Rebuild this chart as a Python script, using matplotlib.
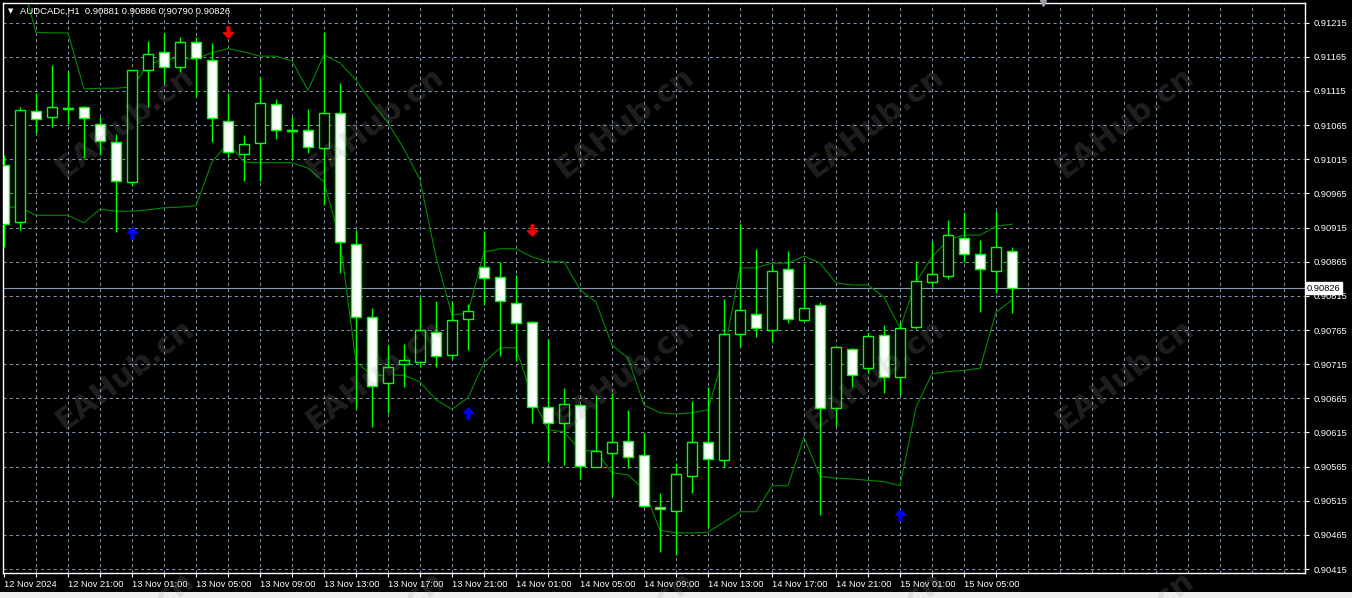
import matplotlib.pyplot as plt
from matplotlib.path import Path
import numpy as np

# AUDCADc H1 bars, 12 Nov 17:00 .. 15 Nov 08:00
opens = [0.91007, 0.90923, 0.91086, 0.91077, 0.91090, 0.91092, 0.91067, 0.91040, 0.90982, 0.91145,
         0.91172, 0.91150, 0.91187, 0.91160, 0.91071, 0.91023, 0.91039, 0.91096, 0.91058, 0.91058,
         0.91032, 0.91083, 0.90891, 0.90784, 0.90687, 0.90715, 0.90718, 0.90762, 0.90728, 0.90781,
         0.90857, 0.90843, 0.90805, 0.90777, 0.90652, 0.90629, 0.90655, 0.90565, 0.90585, 0.90603,
         0.90582, 0.90506, 0.90500, 0.90551, 0.90601, 0.90575, 0.90759, 0.90789, 0.90765, 0.90854,
         0.90780, 0.90802, 0.90651, 0.90737, 0.90709, 0.90758, 0.90696, 0.90769, 0.90835, 0.90844,
         0.90900, 0.90876, 0.90851, 0.90881]
highs = [0.91021, 0.91092, 0.91112, 0.91153, 0.91143, 0.91093, 0.91077, 0.91052, 0.91146, 0.91188,
         0.91200, 0.91194, 0.91194, 0.91185, 0.91112, 0.91051, 0.91135, 0.91103, 0.91077, 0.91089,
         0.91201, 0.91127, 0.90911, 0.90797, 0.90743, 0.90745, 0.90813, 0.90808, 0.90808, 0.90803,
         0.90910, 0.90865, 0.90846, 0.90778, 0.90752, 0.90680, 0.90656, 0.90670, 0.90673, 0.90648,
         0.90614, 0.90526, 0.90570, 0.90661, 0.90682, 0.90810, 0.90920, 0.90884, 0.90860, 0.90881,
         0.90863, 0.90806, 0.90740, 0.90738, 0.90761, 0.90772, 0.90777, 0.90866, 0.90895, 0.90926,
         0.90938, 0.90897, 0.90939, 0.90886]
lows = [0.90887, 0.90911, 0.91053, 0.91062, 0.91067, 0.91017, 0.91021, 0.90909, 0.90976, 0.91092,
        0.91127, 0.91143, 0.91106, 0.91040, 0.91018, 0.90983, 0.90983, 0.91045, 0.91017, 0.91024,
        0.90948, 0.90849, 0.90649, 0.90623, 0.90644, 0.90682, 0.90711, 0.90711, 0.90723, 0.90736,
        0.90802, 0.90727, 0.90720, 0.90629, 0.90572, 0.90567, 0.90547, 0.90564, 0.90521, 0.90563,
        0.90506, 0.90440, 0.90436, 0.90526, 0.90477, 0.90564, 0.90740, 0.90755, 0.90748, 0.90775,
        0.90778, 0.90494, 0.90625, 0.90682, 0.90702, 0.90673, 0.90670, 0.90767, 0.90828, 0.90840,
        0.90865, 0.90791, 0.90819, 0.90790]
closes = [0.90920, 0.91087, 0.91074, 0.91092, 0.91089, 0.91075, 0.91042, 0.90983, 0.91145, 0.91169,
          0.91150, 0.91187, 0.91163, 0.91075, 0.91026, 0.91037, 0.91097, 0.91058, 0.91057, 0.91033,
          0.91083, 0.90894, 0.90784, 0.90683, 0.90711, 0.90721, 0.90765, 0.90727, 0.90780, 0.90793,
          0.90841, 0.90808, 0.90775, 0.90652, 0.90629, 0.90657, 0.90566, 0.90588, 0.90601, 0.90579,
          0.90507, 0.90503, 0.90554, 0.90601, 0.90576, 0.90759, 0.90794, 0.90768, 0.90851, 0.90781,
          0.90797, 0.90651, 0.90740, 0.90699, 0.90756, 0.90696, 0.90768, 0.90837, 0.90847, 0.90904,
          0.90876, 0.90854, 0.90887, 0.90826]

# channel indicator
upper = [0.91286, 0.91286, 0.91201, 0.91200, 0.91200, 0.91118, 0.91119, 0.91119, 0.91121, 0.91153,
         0.91162, 0.91162, 0.91162, 0.91171, 0.91177, 0.91172, 0.91166, 0.91166, 0.91159, 0.91116,
         0.91168, 0.91156, 0.91131, 0.91098, 0.91068, 0.91030, 0.90985, 0.90872, 0.90787, 0.90790,
         0.90879, 0.90884, 0.90884, 0.90872, 0.90865, 0.90865, 0.90824, 0.90806, 0.90743, 0.90724,
         0.90655, 0.90644, 0.90642, 0.90644, 0.90648, 0.90730, 0.90856, 0.90856, 0.90863, 0.90863,
         0.90873, 0.90863, 0.90834, 0.90831, 0.90831, 0.90813, 0.90768, 0.90835, 0.90872, 0.90897,
         0.90904, 0.90904, 0.90917, 0.90920]
lower = [0.90945, 0.90945, 0.90933, 0.90933, 0.90933, 0.90922, 0.90942, 0.90939, 0.90939, 0.90941,
         0.90944, 0.90945, 0.90947, 0.91011, 0.91039, 0.91011, 0.91010, 0.91010, 0.91010, 0.91002,
         0.90982, 0.90897, 0.90718, 0.90699, 0.90699, 0.90699, 0.90689, 0.90663, 0.90649, 0.90666,
         0.90717, 0.90739, 0.90739, 0.90667, 0.90619, 0.90616, 0.90589, 0.90588, 0.90556, 0.90553,
         0.90531, 0.90472, 0.90468, 0.90468, 0.90469, 0.90484, 0.90499, 0.90499, 0.90537, 0.90537,
         0.90608, 0.90551, 0.90548, 0.90547, 0.90545, 0.90543, 0.90537, 0.90652, 0.90701, 0.90704,
         0.90706, 0.90709, 0.90791, 0.90809]

# signal arrows (bar index, price)
sell_bars = [14, 33]
sell_prices = [0.91201, 0.90911]
buy_bars = [8, 29, 56]
buy_prices = [0.90907, 0.90644, 0.90494]

price_ticks = [0.90415, 0.90465, 0.90515, 0.90565, 0.90615, 0.90665, 0.90715, 0.90765, 0.90815,
               0.90865, 0.90915, 0.90965, 0.91015, 0.91065, 0.91115, 0.91165, 0.91215]
time_labels = ['12 Nov 2024', '12 Nov 21:00', '13 Nov 01:00', '13 Nov 05:00', '13 Nov 09:00',
               '13 Nov 13:00', '13 Nov 17:00', '13 Nov 21:00', '14 Nov 01:00', '14 Nov 05:00',
               '14 Nov 09:00', '14 Nov 13:00', '14 Nov 17:00', '14 Nov 21:00', '15 Nov 01:00',
               '15 Nov 05:00']
last_price = 0.90826

plt.rcParams['font.family'] = ['Liberation Sans', 'DejaVu Sans']

W, H = 1352, 598
fig = plt.figure(figsize=(W / 100, H / 100), dpi=100, facecolor='black')
ax = fig.add_axes([3 / W, (H - 573) / H, (1305 - 3) / W, (573 - 3) / H])
ax.set_facecolor('black')

n = len(opens)
x = np.arange(n)
o = np.array(opens)
c = np.array(closes)

ax.set_xlim(-0.0625, 81.3125)
ax.set_ylim(0.904093, 0.912438)

# grid
grid_col = '#8090a4'
for gx in range(2, 81, 2):
    ax.axvline(gx, color=grid_col, lw=0.75, ls=(0, (3, 3)), zorder=1)
for gy in price_ticks:
    ax.axhline(gy, color=grid_col, lw=0.75, ls=(0, (3, 3)), zorder=1)

# bid line
ax.axhline(last_price, color='#8a9bb0', lw=0.8, zorder=1.5)

# channel
ax.plot(x, upper, color='#008a00', lw=0.8, zorder=2)
ax.plot(x, lower, color='#008a00', lw=0.8, zorder=2)

# candles
ax.vlines(x, lows, highs, color='#00ff00', lw=1.0, zorder=3)
bottoms = np.minimum(o, c)
heights = np.abs(c - o)
fills = np.where(c < o, 'white', 'black')
ax.bar(x, heights, bottom=bottoms, width=0.66, color=fills, edgecolor='#00ff00',
       linewidth=1.0, zorder=4)
doji = heights < 0.00002
ax.hlines(c[doji], x[doji] - 0.33, x[doji] + 0.33, color='#00ff00', lw=1.6, zorder=5)

# arrows
arrow = Path([(-0.12, 0.5), (0.12, 0.5), (0.12, -0.02), (0.45, -0.02), (0.0, -0.5),
              (-0.45, -0.02), (-0.12, -0.02), (-0.12, 0.5)], closed=True)
arrow_up = Path(arrow.vertices * [1, -1], closed=True)
ax.plot(sell_bars, sell_prices, ls='none', marker=arrow, ms=8, color='#ff0000', zorder=6)
ax.plot(buy_bars, buy_prices, ls='none', marker=arrow_up, ms=8, color='#0000ff', zorder=6)

# axes styling
for s in ['top', 'left', 'bottom', 'right']:
    ax.spines[s].set_color('white')
    ax.spines[s].set_linewidth(1.0)

ax.yaxis.tick_right()
ax.set_yticks(price_ticks)
ax.set_yticklabels(['%.5f' % p for p in price_ticks])
ax.tick_params(axis='y', colors='white', direction='out', length=3, width=0.8,
               labelsize=6.7, pad=3)

xt = list(range(0, 64, 2))
ax.set_xticks(xt)
ax.set_xticklabels([time_labels[t // 4] if t % 4 == 0 else '' for t in xt])
ax.tick_params(axis='x', colors='white', direction='out', length=3, width=0.8,
               labelsize=6.7, pad=2)
for lab in ax.get_xticklabels():
    lab.set_horizontalalignment('left')

# header
ax.text(0.0062, 0.986, u'\u25bc', transform=ax.transAxes, color='white',
        fontsize=5, va='center', ha='center', family='DejaVu Sans')
ax.text(0.0130, 0.986, 'AUDCADc,H1  0.90881 0.90886 0.90790 0.90826',
        transform=ax.transAxes, color='white', fontsize=6.8, va='center', ha='left')

# bid price label
ax.text(1.0015, last_price, '%.5f' % last_price, transform=ax.get_yaxis_transform(),
        color='black', fontsize=6.7, va='center', ha='left',
        bbox=dict(boxstyle='square,pad=0.15', fc='white', ec='white'), zorder=10, clip_on=False)

# chart shift marker
ax.plot([64.94], [0.912438], marker='v', ms=5, color='#9aa0a8', clip_on=False, zorder=10)

# bottom status strip
fig.patches.append(plt.Rectangle((0, 0), 1, 6 / H, transform=fig.transFigure,
                                 facecolor='#f0f0f0', edgecolor='none', zorder=0))

# watermarks
for cy in [123, 375, 627]:
    for cx in [125, 375, 625, 875, 1125]:
        fig.text(cx / W, 1 - cy / H, 'EAHub.cn', color='#9a9a9a', alpha=0.2,
                 fontsize=22, fontweight='bold', family='DejaVu Sans', rotation=37,
                 ha='center', va='center', rotation_mode='anchor', zorder=20)

fig.savefig('out.png', dpi=100, facecolor='black')
